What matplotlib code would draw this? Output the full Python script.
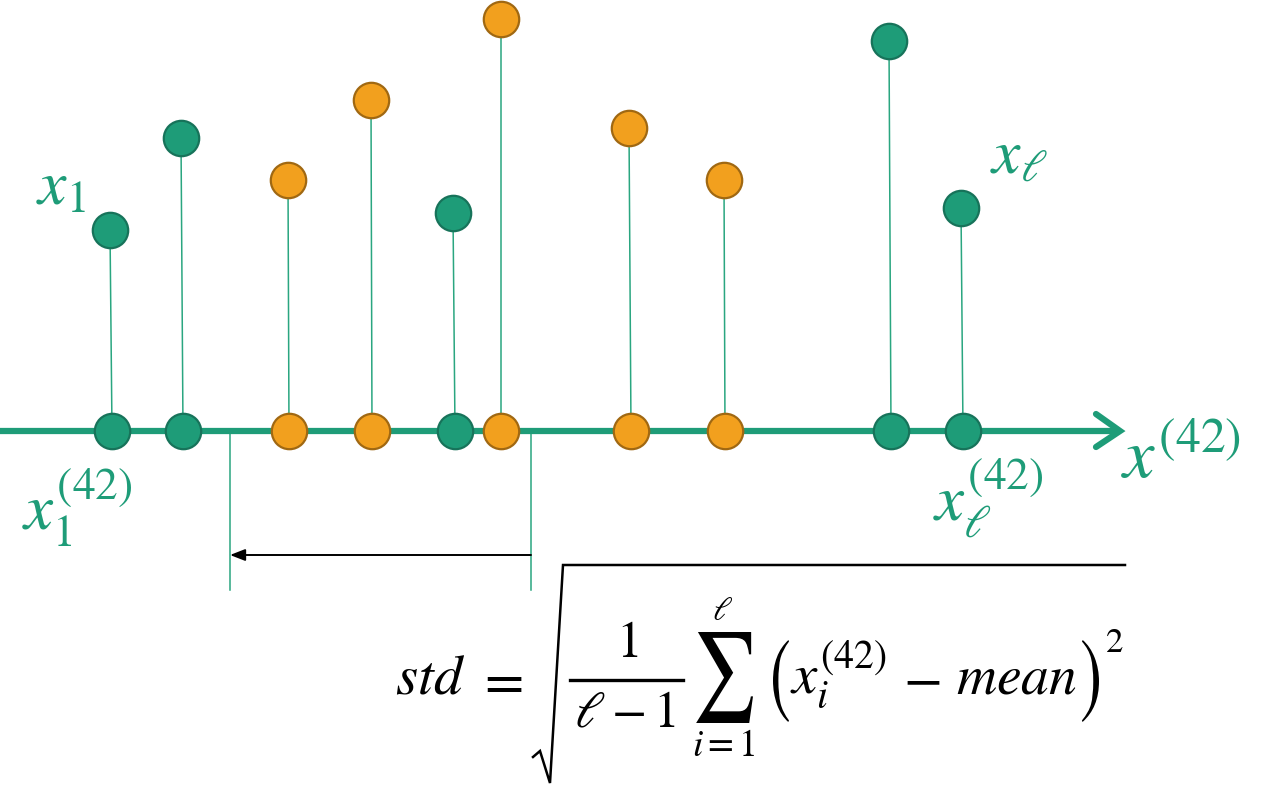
import matplotlib
matplotlib.use("Agg")
import matplotlib.pyplot as plt
from matplotlib.textpath import TextPath
from matplotlib.patches import PathPatch
from matplotlib.path import Path
from matplotlib.font_manager import FontProperties
import numpy as np

plt.rcParams['mathtext.fontset'] = 'stix'

# ---- data (pixel-space diagram coordinates) ----
axis_x = [112, 183, 289, 372, 455, 501, 631, 725, 891, 963]
top_x = [110, 181, 288, 371, 453, 501, 629, 724, 889, 961]
top_y = [230, 138, 180, 100, 213, 19, 128, 180, 41, 208]
groups = ['g', 'g', 'o', 'o', 'g', 'o', 'o', 'o', 'g', 'g']
axis_y = 431
range_lo, range_hi = 230, 531

GREEN = '#1e9c78'
GREEN_EDGE = '#17735a'
STEM = '#2aa680'
ORANGE = '#f2a01e'
ORANGE_EDGE = '#a06812'
fill = {'g': GREEN, 'o': ORANGE}
edge = {'g': GREEN_EDGE, 'o': ORANGE_EDGE}

fig = plt.figure(figsize=(12.66, 7.87), dpi=100)
ax = fig.add_axes([0, 0, 1, 1])
ax.set_xlim(0, 1266)
ax.set_ylim(787, 0)
ax.axis('off')


def glyph(ch, x0, x1, y0, y1, color='black'):
    """Draw a glyph stretched to fill the box [x0,x1] x [y0,y1] (y downward)."""
    tp = TextPath((0, 0), ch, size=100, prop=FontProperties(family='STIXGeneral'))
    v = tp.vertices.copy()
    mn, mx = v.min(axis=0), v.max(axis=0)
    u = (v - mn) / (mx - mn)
    nv = np.column_stack([x0 + u[:, 0] * (x1 - x0), y1 - u[:, 1] * (y1 - y0)])
    ax.add_patch(PathPatch(Path(nv, tp.codes), fc=color, lw=0, zorder=4))


# axis line with open arrowhead
ax.plot([0, 1118], [axis_y, axis_y], color=GREEN, lw=4.5, solid_capstyle='butt', zorder=2)
ax.plot([1096, 1120, 1096], [414, axis_y, 447], color=GREEN, lw=4.5,
        solid_capstyle='round', solid_joinstyle='miter', zorder=2)

# stems
for tx, ty, bx in zip(top_x, top_y, axis_x):
    ax.plot([tx, bx], [ty, axis_y], color=STEM, lw=1.1, zorder=1)

# points
for tx, ty, bx, g in zip(top_x, top_y, axis_x, groups):
    for (px, py) in [(tx, ty), (bx, axis_y)]:
        ax.plot(px, py, 'o', ms=25.5, mfc=fill[g], mec=edge[g], mew=1.6, zorder=3)

# range markers
for xv in (range_lo, range_hi):
    ax.plot([xv, xv], [axis_y, 590], color=STEM, lw=1.1, zorder=1)
ax.annotate('', xy=(range_lo, 555), xytext=(range_hi, 555),
            arrowprops=dict(arrowstyle='-|>,head_length=0.9,head_width=0.35',
                            color='black', lw=1.4, shrinkA=0, shrinkB=0))

# labels
ax.text(36, 205, r'$x_1$', va='baseline', color=GREEN, fontsize=46)
ax.text(22, 530, r'$x_1^{(42)}$', va='baseline', color=GREEN, fontsize=47)
ax.text(990, 173, r'$x_\ell$', va='baseline', color=GREEN, fontsize=46)
ax.text(933, 520, r'$x_\ell^{(42)}$', va='baseline', color=GREEN, fontsize=47)
ax.text(1121, 478, r'$x^{(42)}$', va='baseline', color=GREEN, fontsize=51)

# formula
base = 693
ax.text(395, base, r'$std$', va='baseline', color='black', fontsize=41)
ax.text(499, 681, r'$=$', ha='center', va='center', color='black', fontsize=41)
# radical
ax.plot([533, 540, 550, 563, 1125], [757, 751, 783, 565, 565], color='black', lw=1.8,
        solid_joinstyle='miter')
ax.plot([570, 683], [680, 680], color='black', lw=2.4)
ax.text(627, 657, r'$1$', ha='center', va='baseline', color='black', fontsize=37)
ax.text(625, 727, r'$\ell-1$', ha='center', va='baseline', color='black', fontsize=37)
glyph('\u2211', 692, 753, 632, 723)
ax.text(722, 611, r'$\ell$', ha='center', va='center', color='black', fontsize=24)
ax.text(724, 746, r'$i=1$', ha='center', va='center', color='black', fontsize=27)
glyph('(', 770, 789, 640, 722)
ax.text(790, base, r'$x_i^{(42)}$', va='baseline', color='black', fontsize=41)
ax.text(922, 680, r'$-$', ha='center', va='center', color='black', fontsize=41)
ax.text(956, base, r'$mean$', va='baseline', color='black', fontsize=40)
glyph(')', 1080, 1099, 640, 722)
ax.text(1114, 652, r'$2$', ha='center', va='baseline', color='black', fontsize=25)

fig.savefig('out.png', dpi=100)
